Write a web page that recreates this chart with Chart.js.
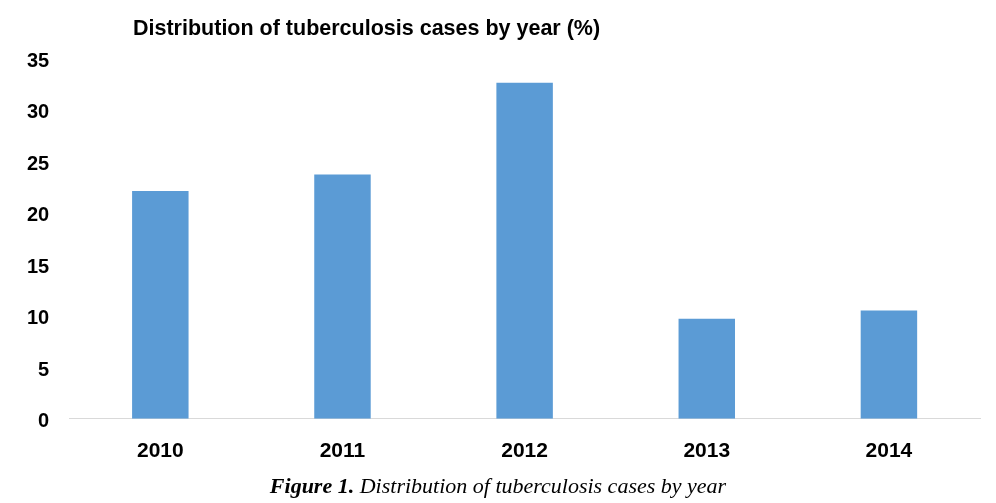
<!DOCTYPE html>
<html>
<head>
<meta charset="utf-8">
<script src="https://cdn.jsdelivr.net/npm/chart.js@4/dist/chart.umd.min.js"></script>
<style>
  html, body { margin: 0; padding: 0; background: #fff; }
  #wrap { position: relative; width: 996px; height: 503px; overflow: hidden; }
  #box { position: absolute; left: 0; top: 0; width: 996px; height: 492px; }
  #title { position: absolute; left: 133px; top: 16px; font: bold 21.5px "Liberation Sans", Arial, sans-serif; color: #000; white-space: nowrap; }
  #caption { position: absolute; left: 0; width: 996px; top: 473px; text-align: center; font: italic 22px "Liberation Serif", "Times New Roman", serif; color: #000; white-space: nowrap; }
</style>
</head>
<body>
<div id="wrap">
  <div id="box"><canvas id="chart"></canvas></div>
  <div id="title">Distribution of tuberculosis cases by year (%)</div>
  <div id="caption"><b>Figure 1.</b> Distribution of tuberculosis cases by year</div>
</div>
<script>
// values
const years = ['2010', '2011', '2012', '2013', '2014'];
const percentCases = [22.1, 23.7, 32.6, 9.7, 10.5];
const yTicks = [0, 5, 10, 15, 20, 25, 30, 35];

const yFont = { family: '"Liberation Sans", Arial, sans-serif', size: 20, weight: 'bold' };
const xFont = { family: '"Liberation Sans", Arial, sans-serif', size: 21, weight: 'bold' };

new Chart(document.getElementById('chart').getContext('2d'), {
    type: 'bar',
    data: {
        labels: years,
        datasets: [{
            label: 'Tuberculosis cases (%)',
            data: percentCases,
            backgroundColor: '#5B9BD5',
            borderWidth: 0,
            barPercentage: 0.31,
            categoryPercentage: 1
        }]
    },
    options: {
        responsive: true,
        maintainAspectRatio: false,
        animation: false,
        layout: { padding: { left: 7, right: 16, top: 58, bottom: 8 } },
        plugins: { legend: { display: false }, tooltip: { enabled: false } },
        scales: {
            x: {
                grid: { display: false, drawTicks: false },
                border: { display: true, color: '#d9d9d9', width: 1 },
                ticks: { color: '#000', font: xFont, padding: 20 }
            },
            y: {
                min: 0,
                max: 35,
                afterBuildTicks: axis => { axis.ticks = yTicks.map(v => ({ value: v })); },
                grid: { display: false, drawTicks: false },
                border: { display: false },
                ticks: { color: '#000', font: yFont, padding: 20, labelOffset: 3 }
            }
        }
    }
});
</script>
</body>
</html>
